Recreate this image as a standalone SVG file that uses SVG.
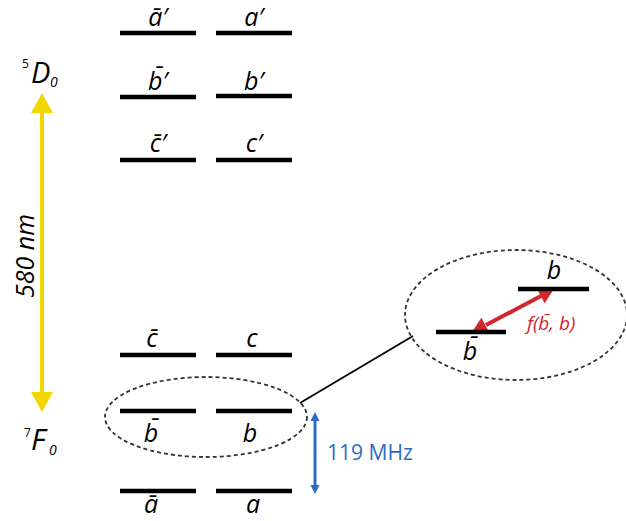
<svg xmlns="http://www.w3.org/2000/svg" width="626" height="521" viewBox="0 0 626 521">
<defs>
<style>
.lvl{stroke:#000;stroke-width:4.5}
.lab{font-family:"Open Sans","Noto Sans",sans-serif;font-style:italic;font-size:25px;fill:#000;text-anchor:middle}
.ell{fill:none;stroke:#333;stroke-width:1.8;stroke-dasharray:4 3}
.term{font-family:"Open Sans","Noto Sans",sans-serif;font-style:italic;fill:#000}
</style>
</defs>

<g id="connectors">
<line x1="42" y1="110" x2="42" y2="395" stroke="#f2d600" stroke-width="4"/>
<polygon points="42,93 31,113 53,113" fill="#f2d600"/>
<polygon points="42,412 31,392 53,392" fill="#f2d600"/>
<line x1="315" y1="418" x2="315" y2="488" stroke="#2a6cc8" stroke-width="3"/>
<polygon points="315,412 310.5,421 319.5,421" fill="#2a6cc8"/>
<polygon points="315,494 310.5,485 319.5,485" fill="#2a6cc8"/>
<line x1="300" y1="403" x2="413" y2="336" stroke="#000" stroke-width="1.8"/>
<line x1="486" y1="325" x2="541" y2="296" stroke="#d1262b" stroke-width="4"/>
<polygon points="472,332 489.2,332.4 481.4,317.7" fill="#d1262b"/>
<polygon points="554,289 544.6,303.3 536.8,288.6" fill="#d1262b"/>
</g>

<g id="D0"><text class="term"><tspan x="22" y="68" font-size="12" font-style="normal">5</tspan><tspan x="31" y="83" font-size="29">D</tspan><tspan x="50" y="87" font-size="14">0</tspan></text></g>
<g id="F0"><text class="term"><tspan x="24" y="437" font-size="12" font-style="normal">7</tspan><tspan x="31" y="450" font-size="30">F</tspan><tspan x="49" y="455" font-size="14">0</tspan></text></g>
<g id="wavelength"><text class="term" font-size="25" text-anchor="middle" transform="translate(34,256) rotate(-90)">580 nm</text></g>

<g id="abar-p"><line class="lvl" x1="120" y1="33" x2="196" y2="33"/><text class="lab" x="158" y="26">ā′</text></g>
<g id="a-p"><line class="lvl" x1="216" y1="33" x2="292" y2="33"/><text class="lab" x="254" y="26">a′</text></g>
<g id="bbar-p"><line class="lvl" x1="120" y1="97" x2="196" y2="97"/><text class="lab" x="158" y="90">b̄′</text></g>
<g id="b-p"><line class="lvl" x1="216" y1="96" x2="292" y2="96"/><text class="lab" x="254" y="90">b′</text></g>
<g id="cbar-p"><line class="lvl" x1="120" y1="160" x2="196" y2="160"/><text class="lab" x="158" y="152">c̄′</text></g>
<g id="c-p"><line class="lvl" x1="216" y1="160" x2="292" y2="160"/><text class="lab" x="254" y="152">c′</text></g>

<g id="cbar"><line class="lvl" x1="120" y1="355" x2="196" y2="355"/><text class="lab" x="152" y="347">c̄</text></g>
<g id="c"><line class="lvl" x1="216" y1="355" x2="292" y2="355"/><text class="lab" x="252" y="347">c</text></g>
<g id="bbar"><line class="lvl" x1="120" y1="411" x2="196" y2="411"/><text class="lab" x="151" y="442">b̄</text></g>
<g id="b"><line class="lvl" x1="216" y1="411" x2="292" y2="411"/><text class="lab" x="250" y="442">b</text></g>
<g id="abar"><line class="lvl" x1="120" y1="491" x2="196" y2="491"/><text class="lab" x="151" y="513">ā</text></g>
<g id="a"><line class="lvl" x1="216" y1="491" x2="292" y2="491"/><text class="lab" x="253" y="513">a</text></g>

<g id="group-left"><ellipse class="ell" cx="206" cy="417" rx="101" ry="40"/></g>
<g id="split"><text x="327" y="460" font-family="Open Sans, Noto Sans, sans-serif" font-size="22" textLength="86" lengthAdjust="spacingAndGlyphs" fill="#2a6cc8">119 MHz</text></g>

<g id="zoom">
<ellipse class="ell" cx="516" cy="315" rx="111" ry="65"/>
<line class="lvl" x1="436" y1="332" x2="506" y2="332"/><text class="lab" x="470" y="360">b̄</text>
<line class="lvl" x1="518" y1="289" x2="589" y2="289"/><text class="lab" x="554" y="279">b</text>
<text x="527" y="330" font-family="Open Sans, Noto Sans, sans-serif" font-style="italic" font-size="19" fill="#d1262b">f(b̄, b)</text>
</g>
</svg>
